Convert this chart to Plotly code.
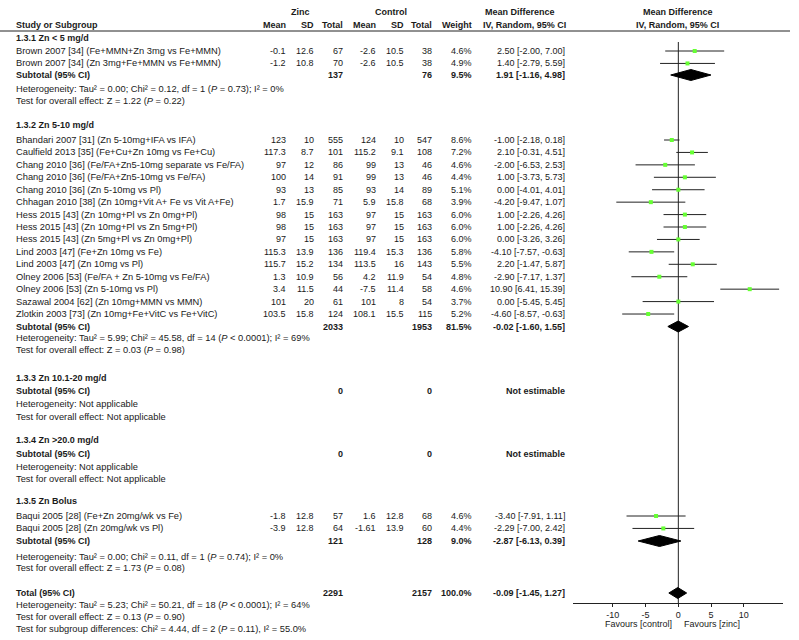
import plotly.graph_objects as go

# ---------------- data ----------------
sg_titles = ["1.3.1 Zn < 5 mg/d", "1.3.2 Zn 5-10 mg/d", "1.3.3 Zn 10.1-20 mg/d",
             "1.3.4 Zn >20.0 mg/d", "1.3.5 Zn Bolus"]

studies_1 = ["Brown 2007 [34] (Fe+MMN+Zn 3mg vs Fe+MMN)",
             "Brown 2007 [34] (Zn 3mg+Fe+MMN vs Fe+MMN)"]
zinc_mean_1 = [-0.1, -1.2]
zinc_sd_1 = [12.6, 10.8]
zinc_n_1 = [67, 70]
ctrl_mean_1 = [-2.6, -2.6]
ctrl_sd_1 = [10.5, 10.5]
ctrl_n_1 = [38, 38]
weight_1 = [4.6, 4.9]
md_1 = [2.50, 1.40]
lo_1 = [-2.00, -2.79]
hi_1 = [7.00, 5.59]

studies_2 = ["Bhandari 2007 [31] (Zn 5-10mg+IFA vs IFA)",
             "Caulfield 2013 [35] (Fe+Cu+Zn 10mg vs Fe+Cu)",
             "Chang 2010 [36] (Fe/FA+Zn5-10mg separate vs Fe/FA)",
             "Chang 2010 [36] (Fe/FA+Zn5-10mg vs Fe/FA)",
             "Chang 2010 [36] (Zn 5-10mg vs Pl)",
             "Chhagan 2010 [38] (Zn 10mg+Vit A+ Fe vs Vit A+Fe)",
             "Hess 2015 [43] (Zn 10mg+Pl vs Zn 0mg+Pl)",
             "Hess 2015 [43] (Zn 10mg+Pl vs Zn 5mg+Pl)",
             "Hess 2015 [43] (Zn 5mg+Pl vs Zn 0mg+Pl)",
             "Lind 2003 [47] (Fe+Zn 10mg vs Fe)",
             "Lind 2003 [47] (Zn 10mg vs Pl)",
             "Olney 2006 [53] (Fe/FA + Zn 5-10mg vs Fe/FA)",
             "Olney 2006 [53] (Zn 5-10mg vs Pl)",
             "Sazawal 2004 [62] (Zn 10mg+MMN vs MMN)",
             "Zlotkin 2003 [73] (Zn 10mg+Fe+VitC vs Fe+VitC)"]
zinc_mean_2 = [123, 117.3, 97, 100, 93, 1.7, 98, 98, 97, 115.3, 115.7, 1.3, 3.4, 101, 103.5]
zinc_sd_2 = [10, 8.7, 12, 14, 13, 15.9, 15, 15, 15, 13.9, 15.2, 10.9, 11.5, 20, 15.8]
zinc_n_2 = [555, 101, 86, 91, 85, 71, 163, 163, 163, 136, 134, 56, 44, 61, 124]
ctrl_mean_2 = [124, 115.2, 99, 99, 93, 5.9, 97, 97, 97, 119.4, 113.5, 4.2, -7.5, 101, 108.1]
ctrl_sd_2 = [10, 9.1, 13, 13, 14, 15.8, 15, 15, 15, 15.3, 16, 11.9, 11.4, 8, 15.5]
ctrl_n_2 = [547, 108, 46, 46, 89, 68, 163, 163, 163, 136, 143, 54, 58, 54, 115]
weight_2 = [8.6, 7.2, 4.6, 4.4, 5.1, 3.9, 6.0, 6.0, 6.0, 5.8, 5.5, 4.8, 4.6, 3.7, 5.2]
md_2 = [-1.00, 2.10, -2.00, 1.00, 0.00, -4.20, 1.00, 1.00, 0.00, -4.10, 2.20, -2.90, 10.90, 0.00, -4.60]
lo_2 = [-2.18, -0.31, -6.53, -3.73, -4.01, -9.47, -2.26, -2.26, -3.26, -7.57, -1.47, -7.17, 6.41, -5.45, -8.57]
hi_2 = [0.18, 4.51, 2.53, 5.73, 4.01, 1.07, 4.26, 4.26, 3.26, -0.63, 5.87, 1.37, 15.39, 5.45, -0.63]

studies_5 = ["Baqui 2005 [28] (Fe+Zn 20mg/wk vs Fe)",
             "Baqui 2005 [28] (Zn 20mg/wk vs Pl)"]
zinc_mean_5 = [-1.8, -3.9]
zinc_sd_5 = [12.8, 12.8]
zinc_n_5 = [57, 64]
ctrl_mean_5 = [1.6, -1.61]
ctrl_sd_5 = [12.8, 13.9]
ctrl_n_5 = [68, 60]
weight_5 = [4.6, 4.4]
md_5 = [-3.40, -2.29]
lo_5 = [-7.91, -7.00]
hi_5 = [1.11, 2.42]

# subtotals: zinc total, control total, weight, md, lo, hi
sub_zinc_n = [137, 2033, 0, 0, 121]
sub_ctrl_n = [76, 1953, 0, 0, 128]
sub_weight = [9.5, 81.5, None, None, 9.0]
sub_md = [1.91, -0.02, None, None, -2.87]
sub_lo = [-1.16, -1.60, None, None, -6.13]
sub_hi = [4.98, 1.55, None, None, 0.39]
sub_het = ["Heterogeneity: Tau² = 0.00; Chi² = 0.12, df = 1 (<i>P</i> = 0.73); I² = 0%",
           "Heterogeneity: Tau² = 5.99; Chi² = 45.58, df = 14 (<i>P</i> < 0.0001); I² = 69%",
           "Heterogeneity: Not applicable",
           "Heterogeneity: Not applicable",
           "Heterogeneity: Tau² = 0.00; Chi² = 0.11, df = 1 (<i>P</i> = 0.74); I² = 0%"]
sub_test = ["Test for overall effect: Z = 1.22 (<i>P</i> = 0.22)",
            "Test for overall effect: Z = 0.03 (<i>P</i> = 0.98)",
            "Test for overall effect: Not applicable",
            "Test for overall effect: Not applicable",
            "Test for overall effect: Z = 1.73 (<i>P</i> = 0.08)"]

total_zinc_n = 2291
total_ctrl_n = 2157
total_weight = 100.0
total_md, total_lo, total_hi = -0.09, -1.45, 1.27
total_het = "Heterogeneity: Tau² = 5.23; Chi² = 50.21, df = 18 (<i>P</i> < 0.0001); I² = 64%"
total_test = "Test for overall effect: Z = 0.13 (<i>P</i> = 0.90)"
subgroup_test = "Test for subgroup differences: Chi² = 4.44, df = 2 (<i>P</i> = 0.11), I² = 55.0%"

tick_vals = [-10, -5, 0, 5, 10]
tick_text = ["-10", "-5", "0", "5", "10"]

groups = [
    (studies_1, zinc_mean_1, zinc_sd_1, zinc_n_1, ctrl_mean_1, ctrl_sd_1, ctrl_n_1, weight_1, md_1, lo_1, hi_1),
    (studies_2, zinc_mean_2, zinc_sd_2, zinc_n_2, ctrl_mean_2, ctrl_sd_2, ctrl_n_2, weight_2, md_2, lo_2, hi_2),
    ([], [], [], [], [], [], [], [], [], [], []),
    ([], [], [], [], [], [], [], [], [], [], []),
    (studies_5, zinc_mean_5, zinc_sd_5, zinc_n_5, ctrl_mean_5, ctrl_sd_5, ctrl_n_5, weight_5, md_5, lo_5, hi_5),
]

# ---------------- layout ----------------
W, H = 799, 640
FONT = "Liberation Sans, Arial, sans-serif"
COL = "#1a1a1a"
FS = 9
FS_LABEL = 9.3

X_LABEL = 15
X_ZM, X_ZSD, X_ZN = 287, 315, 344
X_CM, X_CSD, X_CN = 377, 405, 433
X_W, X_CI = 473, 566

# row y positions (pixels from top)
title_y = [38, 125, 378, 440, 501]
study_y0 = [51, 140, None, None, 516]
sub_y = [75, 326.5, 391, 454, 541]
het_y = [89, 338, 404, 467, 557]
test_y = [101, 350, 417, 479, 568]
STEP = 12.43

annotations = []


def txt(x, y, s, anchor="left", bold=False, size=FS):
    annotations.append(dict(
        x=x / W, y=y, xref="paper", yref="y",
        text=f"<b>{s}</b>" if bold else s, showarrow=False,
        xanchor=anchor, yanchor="middle", borderpad=0,
        font=dict(family=FONT, size=size, color=COL)))


def fnum(v):
    return f"{v:g}"


def fci(m, l, h):
    return f"{m:.2f} [{l:.2f}, {h:.2f}]"


# headers
txt(300, 12, "Zinc", "center", True)
txt(391, 12, "Control", "center", True)
txt(520, 12, "Mean Difference", "center", True)
txt(678, 12, "Mean Difference", "center", True)
txt(X_LABEL, 25, "Study or Subgroup", "left", True)
txt(X_ZM, 25, "Mean", "right", True)
txt(X_ZSD, 25, "SD", "right", True)
txt(X_ZN, 25, "Total", "right", True)
txt(X_CM, 25, "Mean", "right", True)
txt(X_CSD, 25, "SD", "right", True)
txt(X_CN, 25, "Total", "right", True)
txt(X_W, 25, "Weight", "right", True)
txt(524, 25, "IV, Random, 95% CI", "center", True)
txt(677, 25, "IV, Random, 95% CI", "center", True)

fig = go.Figure()

ci_x, ci_y, pt_x, pt_y = [], [], [], []
diamonds = []

for g, (names, zm, zsd, zn, cm, csd, cn, w, md, lo, hi) in enumerate(groups):
    txt(X_LABEL, title_y[g], sg_titles[g], "left", True)
    for i, name in enumerate(names):
        y = study_y0[g] + i * STEP
        txt(X_LABEL, y, name, size=FS_LABEL)
        txt(X_ZM, y, fnum(zm[i]), "right")
        txt(X_ZSD, y, fnum(zsd[i]), "right")
        txt(X_ZN, y, fnum(zn[i]), "right")
        txt(X_CM, y, fnum(cm[i]), "right")
        txt(X_CSD, y, fnum(csd[i]), "right")
        txt(X_CN, y, fnum(cn[i]), "right")
        txt(X_W, y, f"{w[i]:.1f}%", "right")
        txt(X_CI, y, fci(md[i], lo[i], hi[i]), "right")
        ci_x += [lo[i], hi[i], None]
        ci_y += [y, y, None]
        pt_x.append(md[i])
        pt_y.append(y)
    ys = sub_y[g]
    txt(X_LABEL, ys, "Subtotal (95% CI)", "left", True)
    txt(X_ZN, ys, fnum(sub_zinc_n[g]), "right", True)
    txt(X_CN, ys, fnum(sub_ctrl_n[g]), "right", True)
    if sub_md[g] is None:
        txt(X_CI, ys, "Not estimable", "right", True)
    else:
        txt(X_W, ys, f"{sub_weight[g]:.1f}%", "right", True)
        txt(X_CI, ys, fci(sub_md[g], sub_lo[g], sub_hi[g]), "right", True)
        diamonds.append((sub_md[g], sub_lo[g], sub_hi[g], ys))
    txt(X_LABEL, het_y[g], sub_het[g], size=FS_LABEL)
    txt(X_LABEL, test_y[g], sub_test[g], size=FS_LABEL)

# total
TY = 593
txt(X_LABEL, TY, "Total (95% CI)", "left", True)
txt(X_ZN, TY, fnum(total_zinc_n), "right", True)
txt(X_CN, TY, fnum(total_ctrl_n), "right", True)
txt(X_W, TY, f"{total_weight:.1f}%", "right", True)
txt(X_CI, TY, fci(total_md, total_lo, total_hi), "right", True)
diamonds.append((total_md, total_lo, total_hi, TY))
txt(X_LABEL, 605, total_het, size=FS_LABEL)
txt(X_LABEL, 617, total_test, size=FS_LABEL)
txt(X_LABEL, 629, subgroup_test, size=FS_LABEL)

txt(673, 623.5, "Favours [control]", "right")
txt(683, 623.5, "Favours [zinc]", "left")

AXIS_Y = 603

# zero line
fig.add_trace(go.Scatter(x=[0, 0], y=[42, AXIS_Y], mode="lines",
                         line=dict(color="#222", width=1), hoverinfo="skip"))
# CI lines
fig.add_trace(go.Scatter(x=ci_x, y=ci_y, mode="lines",
                         line=dict(color="#222", width=1), hoverinfo="skip"))
# point estimates
fig.add_trace(go.Scatter(x=pt_x, y=pt_y, mode="markers",
                         marker=dict(symbol="square", size=4, color="#66ff33",
                                     line=dict(width=0))))
# diamonds
DH = 5.5
for m, l, h, y in diamonds:
    fig.add_trace(go.Scatter(x=[l, m, h, m, l], y=[y, y - DH, y, y + DH, y],
                             mode="lines", fill="toself", fillcolor="black",
                             line=dict(color="black", width=1), hoverinfo="skip"))

fig.add_shape(type="line", xref="paper", yref="y", x0=0, x1=790 / W, y0=31, y1=31,
              line=dict(color="#222", width=1))

fig.update_layout(
    width=W, height=H, margin=dict(l=0, r=0, t=0, b=0),
    paper_bgcolor="white", plot_bgcolor="white", showlegend=False,
    annotations=annotations,
    xaxis=dict(domain=[573 / W, 783 / W], range=[-16.08, 15.98],
               anchor="free", position=1 - AXIS_Y / H,
               showline=True, linecolor="#222", linewidth=1,
               showgrid=False, zeroline=False,
               tickvals=tick_vals, ticktext=tick_text,
               ticks="outside", ticklen=3, tickcolor="#222",
               tickfont=dict(family=FONT, size=FS, color=COL)),
    yaxis=dict(domain=[0, 1], range=[H, 0], visible=False, showgrid=False,
               zeroline=False),
)

fig.write_html("out.html", config={"displayModeBar": False},
               post_script="document.body.style.margin='0';document.body.style.overflow='hidden';")
